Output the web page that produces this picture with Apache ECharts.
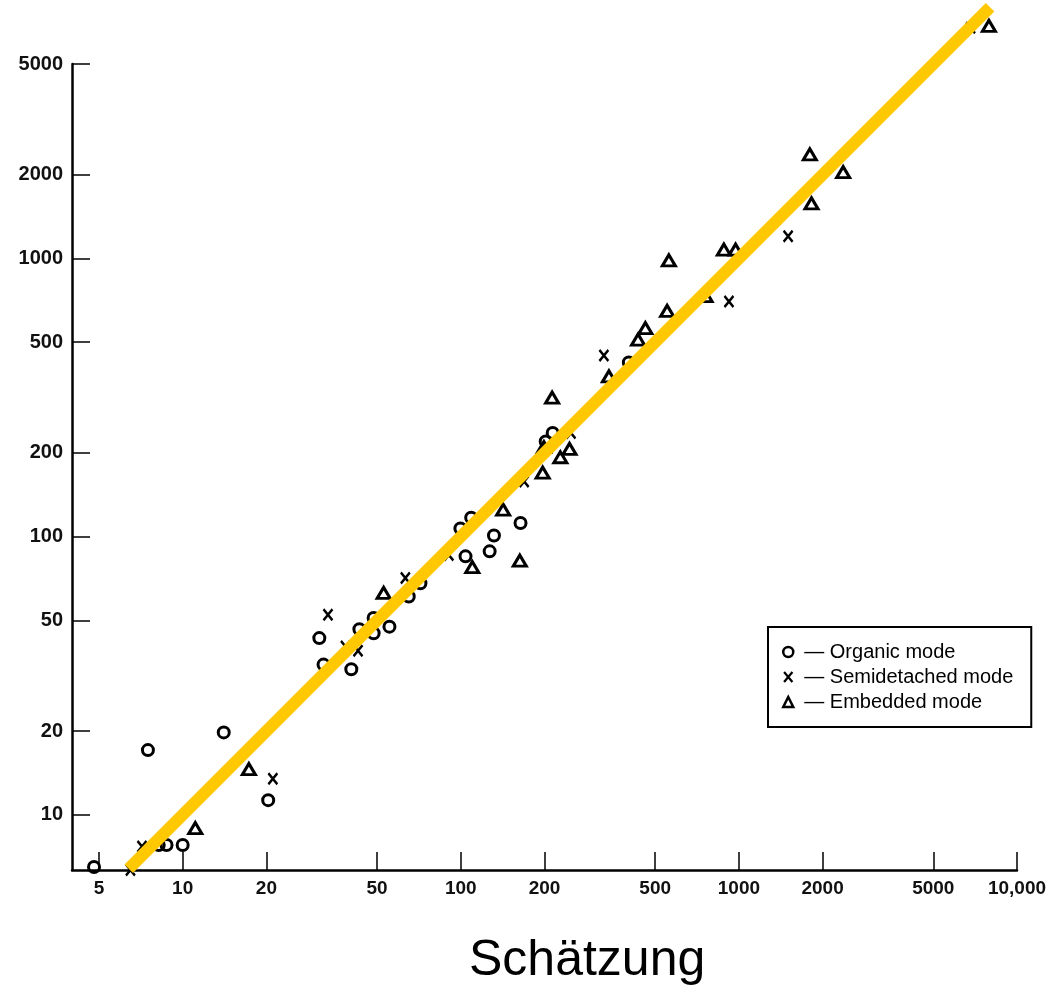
<!DOCTYPE html>
<html>
<head>
<meta charset="utf-8">
<script src="https://cdn.jsdelivr.net/npm/echarts@6/dist/echarts.min.js"></script>
<style>html,body{margin:0;padding:0;background:#fff;}#chart{width:1052px;height:995px;}</style>
</head>
<body>
<div id="chart"></div>
<script>
// Tick values
var xTicks = [5, 10, 20, 50, 100, 200, 500, 1000, 2000, 5000, 10000];
var yTicks = [10, 20, 50, 100, 200, 500, 1000, 2000, 5000];

// Organic mode (circles): [x, y]
var organic = [
  [4.8, 6.5], [8.2, 7.8], [8.75, 7.8], [10, 7.8], [7.5, 17.1], [14.05, 19.8], [20.3, 11.3],
  [31, 43.2], [32.1, 34.7], [40.4, 33.4], [43.2, 46.5], [48.6, 51], [48.6, 45], [55.4, 47.5],
  [65, 61], [71.6, 68], [99.7, 107], [109, 117], [104, 85], [127, 88.6], [131.6, 101],
  [164, 112], [202, 220], [214, 236], [402, 423]
];
// Semidetached mode (crosses)
var semidetached = [
  [6.49, 6.34], [7.14, 7.7], [21.1, 13.5], [33.3, 52.4], [38.5, 40.3], [42.7, 38.9],
  [63.2, 71], [90.6, 86], [169, 158], [249, 236], [327, 448], [921, 700], [1503, 1202], [6808, 6750]
];
// Embedded mode (triangles)
var embedded = [
  [11.1, 8.96], [17.3, 14.6], [52.8, 62.8], [110, 77.8], [142, 125], [163, 82], [197, 170],
  [199, 210], [213, 316], [228, 193], [246, 207], [341, 377], [434, 511], [461, 562], [552, 648],
  [560, 984], [759, 733], [883, 1077], [973, 1077], [1799, 2366], [1824, 1578], [2371, 2042], [7925, 6855]
];
// Estimate line (y = x)
var estimateLine = [[6.4, 6.4], [8000, 8000]];

var seriesNames = ['Organic mode', 'Semidetached mode', 'Embedded mode'];
var crossPath = 'path://M0,0L10,12M10,0L0,12';

var chart = echarts.init(document.getElementById('chart'), null, {renderer: 'canvas'});
var font = 'Liberation Sans, Arial, Helvetica, sans-serif';
var markStyle = {color: 'rgba(0,0,0,0)', borderColor: '#000', borderWidth: 3, opacity: 1};

chart.setOption({
  animation: false,
  backgroundColor: '#fff',
  title: {
    text: 'Schätzung',
    left: 469, top: 936, padding: 0,
    textStyle: {fontFamily: font, fontSize: 50, fontWeight: 'normal', color: '#000'}
  },
  grid: {left: 72, right: 35, top: 64, bottom: 125, containLabel: false, outerBoundsMode: 'none'},
  legend: {
    orient: 'vertical',
    left: 768, top: 627,
    padding: [15, 18, 15, 14],
    itemGap: 5,
    itemWidth: 10, itemHeight: 10,
    borderColor: '#000', borderWidth: 2,
    backgroundColor: '#fff',
    textStyle: {fontFamily: font, fontSize: 20, color: '#000', padding: [0, 0, 0, 6]},
    formatter: function (n) { return '— ' + n; },
    data: [
      {name: seriesNames[0], icon: 'circle', itemStyle: {color: 'rgba(0,0,0,0)', borderColor: '#000', borderWidth: 2.5, opacity: 1}},
      {name: seriesNames[1], icon: crossPath, itemStyle: {color: 'rgba(0,0,0,0)', borderColor: '#000', borderWidth: 2.2, opacity: 1}},
      {name: seriesNames[2], icon: 'triangle', itemStyle: {color: 'rgba(0,0,0,0)', borderColor: '#000', borderWidth: 2.5, opacity: 1}}
    ]
  },
  xAxis: {
    type: 'log', logBase: 10, min: 4, max: 10000,
    axisLine: {lineStyle: {color: '#000', width: 2.5}},
    axisTick: {show: true, inside: true, length: 18, customValues: xTicks, lineStyle: {color: '#000', width: 1.5}},
    axisLabel: {
      customValues: xTicks, margin: 9,
      fontFamily: font, fontSize: 19, fontWeight: 'bold', color: '#111',
      formatter: function (v) { return v >= 10000 ? '10,000' : String(v); }
    },
    splitLine: {show: false},
    minorTick: {show: false}
  },
  yAxis: {
    type: 'log', logBase: 10, min: 6.34, max: 5000,
    axisLine: {lineStyle: {color: '#000', width: 2.5}},
    axisTick: {show: true, inside: true, length: 18, customValues: yTicks, lineStyle: {color: '#000', width: 1.5}},
    axisLabel: {
      customValues: yTicks, margin: 9,
      fontFamily: font, fontSize: 20, fontWeight: 'bold', color: '#111',
      formatter: function (v) { return String(v); }
    },
    splitLine: {show: false},
    minorTick: {show: false}
  },
  series: [
    {
      name: seriesNames[0], type: 'scatter', data: organic, clip: false, z: 2,
      symbol: 'circle', symbolSize: 11,
      itemStyle: markStyle
    },
    {
      name: seriesNames[1], type: 'scatter', data: semidetached, clip: false, z: 2,
      symbol: crossPath, symbolSize: [9, 11],
      itemStyle: {color: 'rgba(0,0,0,0)', borderColor: '#000', borderWidth: 2.5, opacity: 1}
    },
    {
      name: seriesNames[2], type: 'scatter', data: embedded, clip: false, z: 2,
      symbol: 'triangle', symbolSize: [13, 11],
      itemStyle: markStyle
    },
    {
      name: 'estimate', type: 'line', data: estimateLine, clip: false, z: 5,
      symbol: 'none', silent: true,
      lineStyle: {color: '#FFC800', width: 12, cap: 'butt'}
    }
  ]
});
</script>
</body>
</html>
